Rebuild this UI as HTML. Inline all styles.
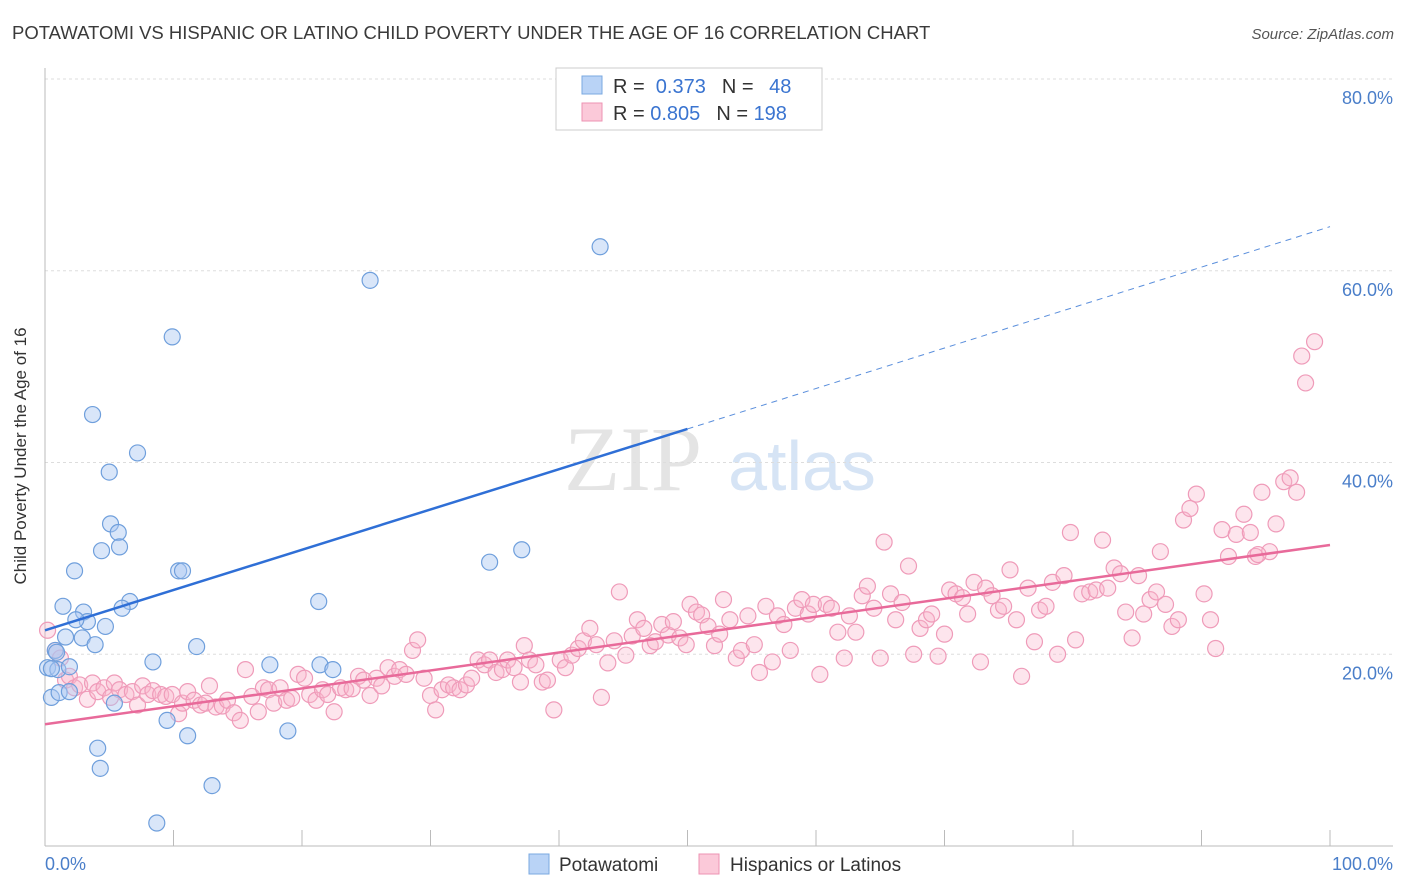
<!DOCTYPE html>
<html><head><meta charset="utf-8"><style>
body{margin:0;background:#fff;}
svg{display:block;font-family:"Liberation Sans",sans-serif;}
</style></head><body>
<svg id="chart" width="1406" height="892">
<text x="12" y="39" font-size="18.5" fill="#3a3a3a">POTAWATOMI VS HISPANIC OR LATINO CHILD POVERTY UNDER THE AGE OF 16 CORRELATION CHART</text>
<text x="1394" y="39" font-size="15" fill="#555" font-style="italic" text-anchor="end">Source: ZipAtlas.com</text>
<g>
<text x="633" y="490" font-size="92" fill="#e4e4e4" font-family="Liberation Serif,serif" text-anchor="middle">ZIP</text>
<text x="802" y="490" font-size="70" fill="#d6e4f5" text-anchor="middle">atlas</text>
</g>
<g id="grid"></g>
<g id="axes"></g>
<g id="marks"></g>
<g id="trends"></g>
<text x="26" y="456" font-size="17" fill="#333" text-anchor="middle" transform="rotate(-90 26 456)">Child Poverty Under the Age of 16</text>
<g>
<rect x="556" y="68" width="266" height="62" fill="#fff" stroke="#ccc"/>
<rect x="582" y="76" width="20" height="18" fill="#b9d3f6" stroke="#7aa8e0"/>
<rect x="582" y="103" width="20" height="18" fill="#fbc9d9" stroke="#ee93b3"/>
<text x="613" y="93" font-size="20" fill="#333">R = <tspan fill="#3a74d0">&#160;0.373</tspan><tspan dx="16">N = </tspan><tspan fill="#3a74d0" dx="10">48</tspan></text>
<text x="613" y="120" font-size="20" fill="#333">R = <tspan fill="#3a74d0">0.805</tspan><tspan dx="16">N = </tspan><tspan fill="#3a74d0">198</tspan></text>
</g>
<g>
<rect x="529" y="854" width="20" height="20" fill="#b9d3f6" stroke="#7aa8e0"/>
<text x="559" y="871" font-size="19" fill="#333">Potawatomi</text>
<rect x="699" y="854" width="20" height="20" fill="#fbc9d9" stroke="#ee93b3"/>
<text x="730" y="871" font-size="19" fill="#333">Hispanics or Latinos</text>
</g>
</svg>
<script>
const yTicks=[20,40,60,80];
const yTickLabels=["20.0%","40.0%","60.0%","80.0%"];
const xTickLabels=["0.0%","100.0%"];
const blueX=[43.2,25.3,9.9,3.7,7.2,5.0,5.1,5.7,5.8,4.4,2.3,10.4,10.7,34.6,37.1,1.4,3.0,6.6,6.0,3.3,2.4,4.7,1.6,2.9,3.9,21.3,11.8,0.8,0.2,1.0,1.9,8.4,17.5,21.4,22.4,0.5,1.1,1.9,5.4,9.5,4.1,4.3,11.1,18.9,13.0,8.7,0.5,0.9];
const blueY=[62.5,59.0,53.1,45.0,41.0,39.0,33.6,32.7,31.2,30.8,28.7,28.7,28.7,29.6,30.9,25.0,24.4,25.5,24.8,23.4,23.6,22.9,21.8,21.7,21.0,25.5,20.8,20.4,18.6,18.4,18.7,19.2,18.9,18.9,18.4,15.5,16.0,16.1,14.9,13.1,10.2,8.1,11.5,12.0,6.3,2.4,18.5,20.2];
const pinkX=[0.2,0.8,1.2,1.6,1.9,2.3,2.7,3.3,3.7,4.1,4.6,5.1,5.4,5.8,6.3,6.8,7.2,7.6,8.0,8.4,9.0,9.4,9.9,10.4,10.7,11.1,11.6,12.1,12.5,12.8,13.3,13.8,14.2,14.7,15.2,15.6,16.1,16.6,17.0,17.4,17.8,18.3,18.8,19.2,19.7,20.2,20.6,21.1,21.6,22.0,22.5,23.0,23.4,23.9,24.4,24.8,25.3,25.8,26.2,26.7,27.2,27.6,28.1,28.6,29.0,29.5,30.0,30.4,30.9,31.4,31.8,32.3,32.8,33.2,33.7,34.2,34.6,35.1,35.6,36.0,36.5,37.0,37.3,37.7,38.2,38.7,39.1,39.6,40.1,40.5,41.0,41.5,41.9,42.4,42.9,43.3,43.8,44.3,44.7,45.2,45.7,46.1,46.6,47.1,47.5,48.0,48.5,48.9,49.4,49.9,50.2,50.7,51.1,51.6,52.1,52.5,52.8,53.3,53.8,54.2,54.7,55.2,55.6,56.1,56.6,57.0,57.5,58.0,58.4,58.9,59.4,59.8,60.3,60.8,61.2,61.7,62.2,62.6,63.1,63.6,64.0,64.5,65.0,65.3,65.8,66.2,66.7,67.2,67.6,68.1,68.6,69.0,69.5,70.0,70.4,70.9,71.4,71.8,72.3,72.8,73.2,73.7,74.2,74.6,75.1,75.6,76.0,76.5,77.0,77.4,77.9,78.4,78.8,79.3,79.8,80.2,80.7,81.3,81.8,82.3,82.7,83.2,83.7,84.1,84.6,85.1,85.5,86.0,86.5,86.8,87.2,87.7,88.2,88.6,89.1,89.6,90.2,90.7,91.1,91.6,92.1,92.7,93.3,93.8,94.2,94.7,95.3,95.8,96.4,96.9,97.4,97.8,98.1,98.8,94.4];
const pinkY=[22.5,20.4,19.6,17.3,17.7,16.5,16.8,15.3,17.0,16.1,16.5,15.5,17.0,16.3,15.8,16.1,14.7,16.7,15.8,16.2,15.8,15.6,15.8,13.8,14.9,16.1,15.2,14.7,14.9,16.7,14.5,14.6,15.2,13.9,13.1,18.4,15.6,14.0,16.5,16.3,14.9,16.5,15.2,15.4,17.9,17.5,15.8,15.2,16.3,15.8,14.0,16.5,16.3,16.4,17.7,17.3,15.7,17.5,16.7,18.6,17.7,18.4,17.9,20.4,21.5,17.5,15.7,14.2,16.3,16.8,16.5,16.3,16.8,17.5,19.4,18.9,19.4,18.1,18.4,19.4,18.6,17.1,20.9,19.4,18.9,17.1,17.3,14.2,19.4,18.6,19.9,20.6,21.4,22.7,21.0,15.5,19.1,21.4,26.5,19.9,21.9,23.6,22.7,20.9,21.3,23.1,22.0,23.4,21.7,21.0,25.2,24.4,24.1,22.9,20.9,22.1,25.7,23.6,19.6,20.4,24.0,21.0,18.1,25.0,19.2,24.0,23.1,20.4,24.8,25.7,24.2,25.2,17.9,25.2,24.8,22.3,19.6,24.0,22.3,26.1,27.1,24.8,19.6,31.7,26.3,23.6,25.4,29.2,20.0,22.7,23.6,24.2,19.8,22.1,26.7,26.3,25.9,24.2,27.5,19.2,26.9,26.1,24.6,25.0,28.8,23.6,17.7,26.9,21.3,24.6,25.0,27.5,20.0,28.2,32.7,21.5,26.3,26.5,26.7,31.9,26.9,29.0,28.4,24.4,21.7,28.2,24.2,25.7,26.5,30.7,25.2,22.9,23.6,34.0,35.2,36.7,26.3,23.6,20.6,33.0,30.2,32.5,34.6,32.7,30.2,36.9,30.7,33.6,38.0,38.4,36.9,51.1,48.3,52.6,30.4];
const blueTrend=[[0,22.5],[50,43.5]];
const blueTrendExt=[[50,43.5],[100,64.6]];
const pinkTrend=[[0,12.7],[100,31.4]];
const NS='http://www.w3.org/2000/svg';
const X0=45,X1=1330,Y0=846,Y80=79;
const sx=v=>X0+(X1-X0)*v/100;
const sy=v=>Y0-(Y0-Y80)*v/80;
function mk(tag,attrs,parent){const e=document.createElementNS(NS,tag);for(const k in attrs)e.setAttribute(k,attrs[k]);parent.appendChild(e);return e;}
const grid=document.getElementById('grid'),axes=document.getElementById('axes'),marks=document.getElementById('marks'),trends=document.getElementById('trends');
yTicks.forEach((t,i)=>{
 const l=mk('line',{x1:X0,x2:1393,y1:sy(t),y2:sy(t),stroke:'#ddd','stroke-dasharray':'3,3'},grid);
 
 
 const tx=mk('text',{x:1393,y:sy(t)+25,'font-size':18,fill:'#4a7ec9','text-anchor':'end'},axes);
 tx.textContent=yTickLabels[i];
 
 
});
const al=mk('line',{x1:X0,x2:X0,y1:68,y2:Y0,stroke:'#bbb'},axes);


const bl=mk('line',{x1:X0,x2:1393,y1:Y0,y2:Y0,stroke:'#bbb'},axes);


for(let i=0;i<=10;i++){
 const t=mk('line',{x1:sx(i*10),x2:sx(i*10),y1:830,y2:Y0,stroke:'#bbb'},axes);
 
 
}
const xl0=mk('text',{x:45,y:870,'font-size':18,fill:'#4a7ec9'},axes);xl0.textContent=xTickLabels[0];


const xl1=mk('text',{x:1393,y:870,'font-size':18,fill:'#4a7ec9','text-anchor':'end'},axes);xl1.textContent=xTickLabels[1];


pinkX.forEach((v,i)=>{
 const c=mk('circle',{cx:sx(v),cy:sy(pinkY[i]),r:8,fill:'rgba(248,180,202,0.35)',stroke:'#ef9bb9','stroke-width':1.2},marks);
 
 
});
blueX.forEach((v,i)=>{
 const c=mk('circle',{cx:sx(v),cy:sy(blueY[i]),r:8,fill:'rgba(170,200,242,0.45)',stroke:'#6f9fdc','stroke-width':1.2},marks);
 
 
});
const l1=mk('line',{x1:sx(blueTrend[0][0]),y1:sy(blueTrend[0][1]),x2:sx(blueTrend[1][0]),y2:sy(blueTrend[1][1]),stroke:'#2f6fd6','stroke-width':2.5},trends);


const l2=mk('line',{x1:sx(blueTrendExt[0][0]),y1:sy(blueTrendExt[0][1]),x2:sx(blueTrendExt[1][0]),y2:sy(blueTrendExt[1][1]),stroke:'#5b8fdc','stroke-width':1,'stroke-dasharray':'6,5'},trends);


const l3=mk('line',{x1:sx(pinkTrend[0][0]),y1:sy(pinkTrend[0][1]),x2:sx(pinkTrend[1][0]),y2:sy(pinkTrend[1][1]),stroke:'#e86a9a','stroke-width':2.5},trends);


</script>
</body></html>
